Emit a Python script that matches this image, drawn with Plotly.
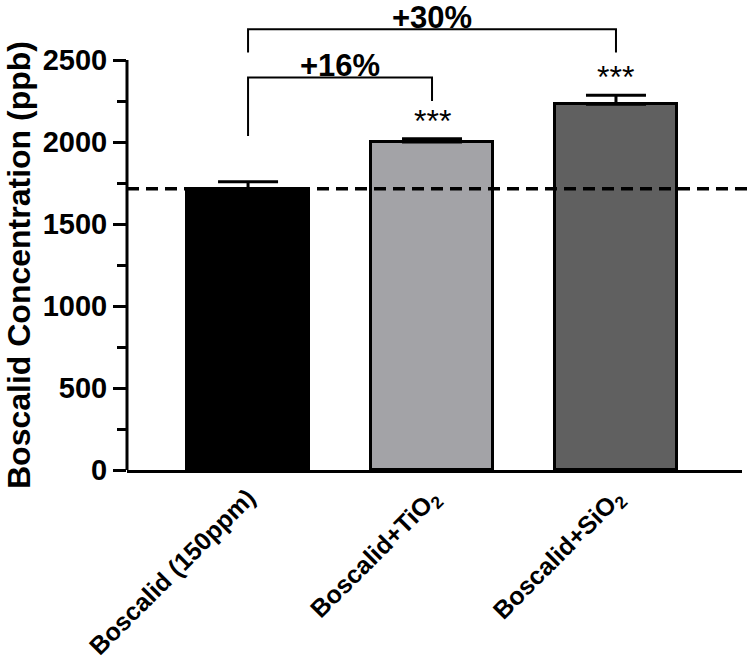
import plotly.graph_objects as go

# ---- data ----
groups = ["Boscalid (150ppm)", "Boscalid+TiO<sub>2</sub>", "Boscalid+SiO<sub>2</sub>"]
means = [1715, 2000, 2230]
errors = [42, 20, 55]
bar_colors = ["#000000", "#a3a3a7", "#606060"]
stars = ["", "***", "***"]
control_level = 1715

# brackets: (left index, right index), top, leg ends, label
bracket_pairs = [(0, 1), (0, 2)]
bracket_tops = [2394, 2687]
bracket_left_ends = [2037, 2545]
bracket_right_ends = [2250, 2545]
bracket_labels = ["+16%", "+30%"]

y_ticks = [0, 500, 1000, 1500, 2000, 2500]
y_minor = [250, 750, 1250, 1750, 2250]

_FONT = "Arial, Liberation Sans, sans-serif"
xs = list(range(len(groups)))

W, H = 750, 663
ML, MR, MT, MB = 127, 8, 0, 193
PW, PH = W - ML - MR, H - MT - MB

fig = go.Figure()
fig.add_trace(go.Bar(
    x=xs, y=means, width=0.66,
    marker=dict(color=bar_colors, line=dict(color="black", width=3)),
    error_y=dict(type="data", symmetric=False, array=errors,
                 arrayminus=[0] * len(errors), color="black",
                 thickness=3, width=30),
    showlegend=False,
))

for (i, j), top, lend, rend in zip(bracket_pairs, bracket_tops,
                                   bracket_left_ends, bracket_right_ends):
    fig.add_trace(go.Scatter(
        x=[i, i, j, j], y=[lend, top, top, rend], mode="lines",
        line=dict(color="black", width=2), showlegend=False, hoverinfo="skip",
    ))

annotations = []
for (i, j), top, lab in zip(bracket_pairs, bracket_tops, bracket_labels):
    annotations.append(dict(
        x=(i + j) / 2, y=top, text=f"<b>{lab}</b>", showarrow=False,
        yanchor="bottom", yshift=-8, font=dict(size=31, color="black", family=_FONT),
    ))
for x, m, e, s in zip(xs, means, errors, stars):
    if s:
        annotations.append(dict(
            x=x, y=m + e, text=s, showarrow=False, yanchor="bottom", yshift=-2,
            font=dict(size=32, color="black", family=_FONT),
        ))
annotations.append(dict(
    xref="paper", yref="paper", x=(19 - ML) / PW, y=(PH - 265) / PH,
    text="<b>Boscalid Concentration (ppb)</b>", textangle=-90, showarrow=False,
    xanchor="center", yanchor="middle", font=dict(size=32, color="black", family=_FONT),
))

fig.update_layout(
    width=W, height=H,
    paper_bgcolor="white", plot_bgcolor="white",
    font=dict(family=_FONT, color="black"),
    margin=dict(l=ML, r=MR, t=MT, b=MB, autoexpand=False),
    bargap=0,
    annotations=annotations,
    shapes=[
        dict(type="line", xref="paper", x0=0, x1=1.02, yref="y",
             y0=control_level, y1=control_level,
             line=dict(color="black", width=3.5, dash="12px,7px"), layer="above"),
        dict(type="line", xref="paper", x0=0, x1=0, yref="y", y0=0, y1=y_ticks[-1],
             line=dict(color="black", width=3)),
    ],
)
fig.update_xaxes(
    range=[-0.658, 2.685], tickvals=xs, ticktext=[f"<b>{g}</b>" for g in groups],
    tickangle=-45, tickfont=dict(size=25, color="black", family=_FONT),
    showline=True, linecolor="black", linewidth=3, ticks="", showgrid=False,
    zeroline=False, automargin=False,
)
fig.update_yaxes(
    range=[0, PH / 0.164], tickvals=y_ticks, ticktext=[f"<b>{v}</b>" for v in y_ticks],
    tickfont=dict(size=29, color="black", family=_FONT),
    ticks="outside", ticklen=13, tickwidth=3, tickcolor="black",
    minor=dict(tickvals=y_minor, ticks="outside", ticklen=9, tickwidth=3,
               tickcolor="black", showgrid=False),
    showline=False, showgrid=False, zeroline=False, automargin=False,
)

# drop the default 8px body margin so the figure sits at the page origin
fig.write_html("out.html", config={"displayModeBar": False},
               post_script="document.body.style.margin='0px';")
